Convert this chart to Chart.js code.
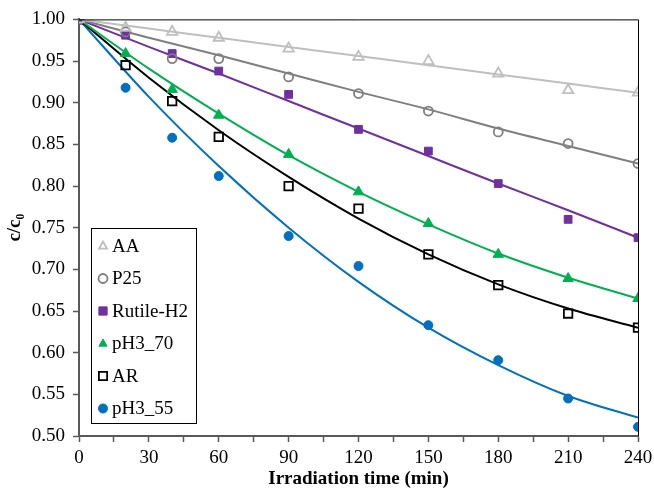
<!DOCTYPE html>
<html>
<head>
<meta charset="utf-8">
<script src="https://cdn.jsdelivr.net/npm/chart.js@4.4.1/dist/chart.umd.min.js"></script>
<style>
  html, body { margin: 0; padding: 0; background: #fff; }
  #wrap { width: 654px; height: 493px; }
</style>
</head>
<body>
<div id="wrap"><canvas id="c"></canvas></div>
<script>
// measured times (min) and fitted-curve sample times
const times = [0, 20, 40, 60, 90, 120, 150, 180, 210, 240];
const fitTimes = [0, 30, 60, 90, 120, 150, 180, 210, 240];

// measured c/c0 values
const aa      = [1.000, 0.990, 0.985, 0.978, 0.965, 0.955, 0.950, 0.935, 0.915, 0.912];
const p25     = [1.000, 0.985, 0.953, 0.953, 0.931, 0.911, 0.890, 0.865, 0.851, 0.827];
const rutile  = [1.000, 0.981, 0.959, 0.938, 0.910, 0.868, 0.842, 0.803, 0.760, 0.738];
const ph370   = [1.000, 0.959, 0.916, 0.885, 0.838, 0.793, 0.755, 0.718, 0.689, 0.665];
const ar      = [1.000, 0.945, 0.902, 0.859, 0.800, 0.773, 0.718, 0.681, 0.647, 0.630];
const ph355   = [1.000, 0.918, 0.858, 0.812, 0.740, 0.704, 0.633, 0.591, 0.545, 0.511];

// trend lines
const aaFit     = [1.000, 0.989, 0.978, 0.967, 0.956, 0.945, 0.934, 0.923, 0.912];
const p25Fit    = [1.000, 0.978, 0.957, 0.935, 0.913, 0.892, 0.869, 0.848, 0.827];
const rutileFit = [1.000, 0.967, 0.935, 0.902, 0.869, 0.836, 0.803, 0.771, 0.738];
const ph370Fit  = [1.000, 0.941, 0.887, 0.837, 0.793, 0.754, 0.719, 0.690, 0.665];
const arFit     = [1.000, 0.930, 0.867, 0.811, 0.761, 0.718, 0.682, 0.653, 0.630];
const ph355Fit  = [1.000, 0.907, 0.824, 0.750, 0.685, 0.630, 0.585, 0.548, 0.522];

const yTicks = [0.50, 0.55, 0.60, 0.65, 0.70, 0.75, 0.80, 0.85, 0.90, 0.95, 1.00];

const serif = "'Liberation Serif', 'Times New Roman', serif";

function pts(xs, ys) {
    return xs.map((x, i) => ({ x: x, y: ys[i] }));
}

const series = [
    { label: 'AA',        vals: aa,     fit: aaFit,     color: '#bfbfbf', style: 'triangle', fill: false, r: 6 },
    { label: 'P25',       vals: p25,    fit: p25Fit,    color: '#7f7f7f', style: 'circle',   fill: false, r: 4.5 },
    { label: 'Rutile-H2', vals: rutile, fit: rutileFit, color: '#7030a0', style: 'rect',     fill: true,  r: 5.5 },
    { label: 'pH3_70',    vals: ph370,  fit: ph370Fit,  color: '#00b050', style: 'triangle', fill: true,  r: 6 },
    { label: 'AR',        vals: ar,     fit: arFit,     color: '#000000', style: 'rect',     fill: false, r: 6 },
    { label: 'pH3_55',    vals: ph355,  fit: ph355Fit,  color: '#0070c0', style: 'circle',   fill: true,  r: 4.5 }
];

const datasets = [];
series.forEach(s => {
    datasets.push({
        label: s.label,
        data: pts(times, s.vals),
        showLine: false,
        pointStyle: s.style,
        pointRadius: s.r,
        pointHoverRadius: s.r,
        pointBorderWidth: s.fill ? 1 : 1.8,
        borderColor: s.color,
        backgroundColor: s.fill ? s.color : 'rgba(255,255,255,0)',
        order: 0,
        isMarker: true
    });
    datasets.push({
        label: s.label + ' fit',
        data: pts(fitTimes, s.fit),
        showLine: true,
        pointRadius: 0,
        borderColor: s.color,
        borderWidth: 2,
        tension: 0.4,
        cubicInterpolationMode: 'monotone',
        order: 1,
        isMarker: false
    });
});

function drawMarker(ctx, x, y, ds, r) {
    ctx.save();
    ctx.beginPath();
    if (ds.pointStyle === 'circle') {
        ctx.arc(x, y, r, 0, Math.PI * 2);
    } else if (ds.pointStyle === 'rect') {
        ctx.rect(x - r * 0.75, y - r * 0.75, r * 1.5, r * 1.5);
    } else {
        ctx.moveTo(x, y - r);
        ctx.lineTo(x + r * 0.9, y + r * 0.6);
        ctx.lineTo(x - r * 0.9, y + r * 0.6);
        ctx.closePath();
    }
    ctx.fillStyle = ds.backgroundColor;
    ctx.fill();
    ctx.lineWidth = ds.pointBorderWidth;
    ctx.strokeStyle = ds.borderColor;
    ctx.stroke();
    ctx.restore();
}

const framePlugin = {
    id: 'frameAndLegend',
    afterDraw(chart) {
        const ctx = chart.ctx;
        const a = chart.chartArea;
        // top and right frame lines
        ctx.save();
        ctx.strokeStyle = '#000';
        ctx.lineWidth = 1;
        ctx.beginPath();
        ctx.moveTo(a.left, a.top + 0.5);
        ctx.lineTo(a.right + 0.5, a.top + 0.5);
        ctx.lineTo(a.right + 0.5, a.bottom);
        ctx.stroke();

        // legend box inside plot, lower left
        const bx = 91, by = 228, bw = 105, bh = 195;
        ctx.fillStyle = '#fff';
        ctx.fillRect(bx, by, bw, bh);
        ctx.strokeStyle = '#000';
        ctx.lineWidth = 1;
        ctx.strokeRect(bx + 0.5, by + 0.5, bw, bh);

        const items = chart.data.datasets.filter(d => d.isMarker);
        ctx.font = '19px ' + serif;
        ctx.textBaseline = 'middle';
        ctx.textAlign = 'left';
        items.forEach((ds, i) => {
            const y = 246 + i * 32.5;
            drawMarker(ctx, 103, y, ds, ds.pointStyle === 'rect' ? 5.5 : 4.5);
            ctx.fillStyle = '#000';
            ctx.fillText(ds.label, 112, y + 1);
        });
        ctx.restore();
    }
};

new Chart(document.getElementById('c'), {
    type: 'scatter',
    data: { datasets: datasets },
    plugins: [framePlugin],
    options: {
        responsive: true,
        maintainAspectRatio: false,
        animation: false,
        layout: {
            padding: { top: 18, right: 16, left: 4, bottom: 0 }
        },
        plugins: {
            legend: { display: false },
            tooltip: { enabled: false }
        },
        scales: {
            x: {
                type: 'linear',
                min: 0,
                max: 240,
                afterFit: scale => {
                    scale.height = 57;
                    scale.paddingLeft = 0;
                    scale.paddingRight = 0;
                },
                ticks: {
                    stepSize: 15,
                    autoSkip: false,
                    maxRotation: 0,
                    padding: 5,
                    color: '#000',
                    font: { family: serif, size: 19 },
                    callback: v => (v % 30 === 0 ? v : '')
                },
                grid: {
                    drawOnChartArea: false,
                    drawTicks: true,
                    tickLength: 6,
                    tickWidth: 1.5,
                    color: '#595959'
                },
                border: { color: '#595959', width: 2 },
                title: {
                    display: true,
                    text: 'Irradiation time (min)',
                    color: '#000',
                    padding: { top: 0, bottom: 3 },
                    font: { family: serif, size: 19, weight: 'bold' }
                }
            },
            y: {
                min: 0.5,
                max: 1.0,
                afterFit: scale => { scale.width = 75; },
                afterBuildTicks: scale => {
                    scale.ticks = yTicks.map(v => ({ value: v }));
                },
                ticks: {
                    padding: 8,
                    color: '#000',
                    font: { family: serif, size: 19 },
                    callback: v => v.toFixed(2)
                },
                grid: {
                    drawOnChartArea: false,
                    drawTicks: true,
                    tickLength: 6,
                    tickWidth: 1.5,
                    color: '#595959'
                },
                border: { color: '#595959', width: 2 },
                title: {
                    display: true,
                    text: 'c/c₀',
                    color: '#000',
                    padding: { top: 0, bottom: 0 },
                    font: { family: serif, size: 19, weight: 'bold' }
                }
            }
        }
    }
});
</script>
</body>
</html>
